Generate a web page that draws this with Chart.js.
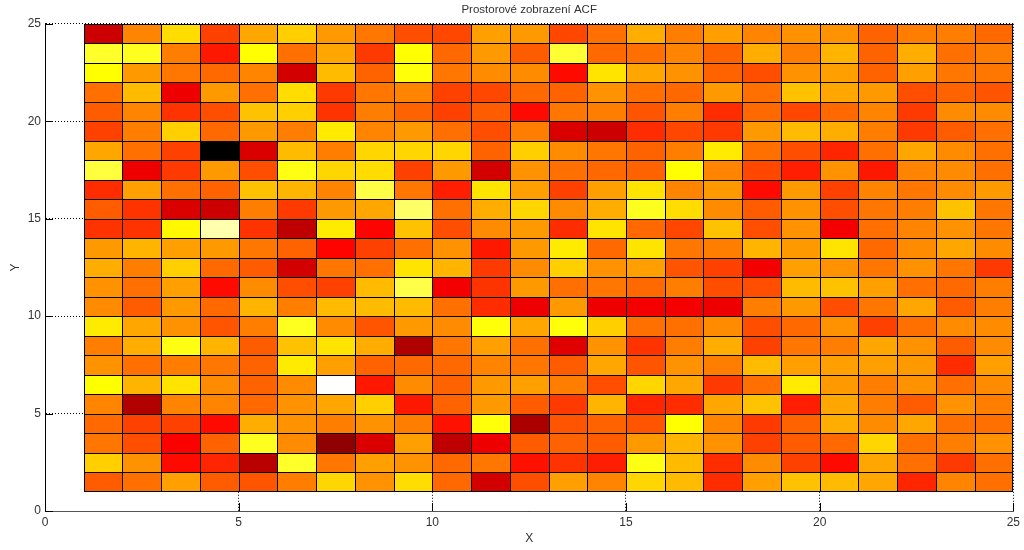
<!DOCTYPE html>
<html><head><meta charset="utf-8">
<style>html,body{margin:0;padding:0;background:#fff}canvas{display:block}</style>
<script src="https://cdn.jsdelivr.net/npm/chart.js@4"></script>
</head><body><canvas id="c" width="1024" height="550"></canvas>
<script>
const titleText = 'Prostorové zobrazení ACF';
const xLabel = 'X';
const yLabel = 'Y';
const columnStarts = [1,2,3,4,5,6,7,8,9,10,11,12,13,14,15,16,17,18,19,20,21,22,23,24];
const row24 = [30,57,70,47,62,68,60,55,49,48,61,60,48,54,63,56,61,57,59,59,52,56,56,53];
const row23 = [79,78,56,41,75,54,62,46,75,53,60,51,80,53,54,57,52,63,56,64,52,63,54,56];
const row22 = [75,60,55,53,57,31,65,52,76,55,58,58,39,71,62,59,52,49,59,61,52,61,55,55];
const row21 = [54,65,35,60,54,70,46,55,57,47,48,53,52,59,54,53,60,54,66,62,60,49,52,50];
const row20 = [51,57,45,49,66,68,45,56,52,47,51,39,55,56,50,56,44,53,48,53,57,46,58,58];
const row19 = [47,56,68,53,60,56,72,57,60,54,49,56,32,30,44,48,46,60,65,63,56,46,51,54];
const row18 = [62,54,47,0,32,65,56,69,69,69,52,68,58,55,52,56,72,54,49,43,54,62,58,54];
const row17 = [81,35,46,60,49,77,69,70,47,60,31,59,54,53,52,75,57,48,42,59,41,57,58,54];
const row16 = [44,61,54,52,66,64,57,82,55,42,71,61,47,61,71,57,60,39,60,47,57,55,58,60];
const row15 = [51,45,32,30,56,46,60,62,85,54,63,69,58,63,78,70,58,51,59,49,55,56,66,55];
const row14 = [45,45,74,92,45,28,72,38,66,49,58,60,44,71,53,48,66,49,59,36,54,57,59,55];
const row13 = [60,64,61,60,55,52,38,47,54,59,41,60,72,53,71,55,56,64,60,71,53,58,62,58];
const row12 = [63,56,68,53,51,31,55,54,71,64,46,58,68,59,61,50,47,36,61,59,55,59,55,46];
const row11 = [59,54,61,39,58,49,47,65,82,36,45,60,54,55,53,56,49,49,65,66,61,54,53,56];
const row10 = [58,51,60,53,64,56,65,65,65,54,44,35,60,35,36,36,35,56,60,49,55,62,51,56];
const row9  = [72,62,59,50,56,78,58,50,60,58,76,62,76,68,54,54,58,49,53,59,47,54,58,58];
const row8  = [56,63,77,64,51,66,71,63,26,55,61,54,33,59,45,56,63,47,55,56,62,59,51,58];
const row7  = [59,54,56,55,52,72,61,52,53,53,57,55,51,62,50,59,56,65,61,61,61,60,44,61];
const row6  = [75,64,71,58,52,58,100,41,58,52,60,61,56,49,69,62,46,54,72,60,56,59,54,58];
const row5  = [57,26,57,57,53,59,62,68,41,52,60,51,46,64,43,44,62,66,42,62,56,51,59,56];
const row4  = [53,47,47,39,63,59,56,59,56,40,76,25,50,52,50,75,57,46,52,63,58,62,54,54];
const row3  = [55,49,37,52,78,58,21,32,61,28,35,51,52,51,60,64,59,47,51,53,69,54,56,59];
const row2  = [68,59,39,43,27,79,55,61,59,53,55,40,45,42,77,65,44,58,47,39,62,54,46,54];
const row1  = [51,54,61,51,50,56,69,59,70,53,31,49,61,57,69,65,44,61,66,65,62,43,57,54];
const rowsBottomUp = [row1,row2,row3,row4,row5,row6,row7,row8,row9,row10,row11,row12,row13,row14,row15,row16,row17,row18,row19,row20,row21,row22,row23,row24];

function hot(v){
  const c = t => Math.round(255*Math.max(0,Math.min(1,t)));
  return `rgb(${c(v/37.5)},${c((v-37.5)/37.5)},${c((v-75)/25)})`;
}
const datasets = rowsBottomUp.map((row,r)=>({
  data: row.map((v,i)=>({x:columnStarts[i]+0.5, y:[r+1,r+2], v})),
  backgroundColor: row.map(hot),
  borderColor:'#000',
  borderWidth: row.map((v,i)=>({left:1,top:1,right:i===row.length-1?1:0,bottom:r===0?1:0})),
  borderSkipped:false,
  inflateAmount:0,
  grouped:false,
  barPercentage:1,
  categoryPercentage:1
}));
const snapBars = {
  id:'snapBars',
  afterDatasetsUpdate(chart){
    chart.getSortedVisibleDatasetMetas().forEach(m=>m.data.forEach(el=>{
      const l=Math.round(el.x-el.width/2), r=Math.round(el.x+el.width/2);
      el.x=(l+r)/2; el.width=r-l; el.y=Math.round(el.y); el.base=Math.round(el.base);
    }));
  }
};
const innerTicks = {
  id:'innerTicks',
  afterDatasetsDraw(chart){
    const {x,y}=chart.scales, a=chart.chartArea, ctx=chart.ctx;
    ctx.save(); ctx.strokeStyle='#000'; ctx.lineWidth=1; ctx.beginPath();
    y.ticks.forEach(t=>{const p=Math.round(y.getPixelForValue(t.value))+0.5;ctx.moveTo(a.left,p);ctx.lineTo(a.left+8,p);});
    x.ticks.forEach(t=>{const p=Math.round(x.getPixelForValue(t.value))+0.5;ctx.moveTo(p,a.bottom);ctx.lineTo(p,a.bottom-8);});
    ctx.stroke(); ctx.restore();
  }
};
const font = {family:'"Liberation Sans",Arial,sans-serif', size:12};
const ink = '#333';
new Chart(document.getElementById('c'),{
  type:'bar',
  data:{datasets},
  plugins:[snapBars,innerTicks],
  options:{
    responsive:false, animation:false, events:[],
    layout:{padding:{left:0,right:9,top:0,bottom:0},autoPadding:false},
    plugins:{
      legend:{display:false}, tooltip:{enabled:false},
      title:{display:true,text:titleText,fullSize:false,color:ink,font:{family:font.family,size:11.5,weight:'normal'},padding:{top:3,bottom:7}}
    },
    scales:{
      x:{type:'linear',min:0,max:25,offset:false,
        afterFit(s){s.height=39;},
        grid:{color:'#000',offset:false,drawTicks:false},
        border:{display:true,color:'#555',width:1,dash:[1,2]},
        ticks:{stepSize:5,color:ink,font,padding:4,maxRotation:0,autoSkip:false},
        title:{display:true,text:xLabel,color:ink,font,padding:{top:2,bottom:4}}
      },
      y:{type:'linear',min:0,max:25,
        afterFit(s){s.width=45;},
        grid:{color:'#000',drawTicks:false},
        border:{display:true,color:'#000',width:1,dash:[1,2]},
        ticks:{stepSize:5,color:ink,font,padding:4,autoSkip:false},
        title:{display:true,text:yLabel,color:ink,font,padding:{top:8,bottom:0}}
      }
    }
  }
});
</script></body></html>
